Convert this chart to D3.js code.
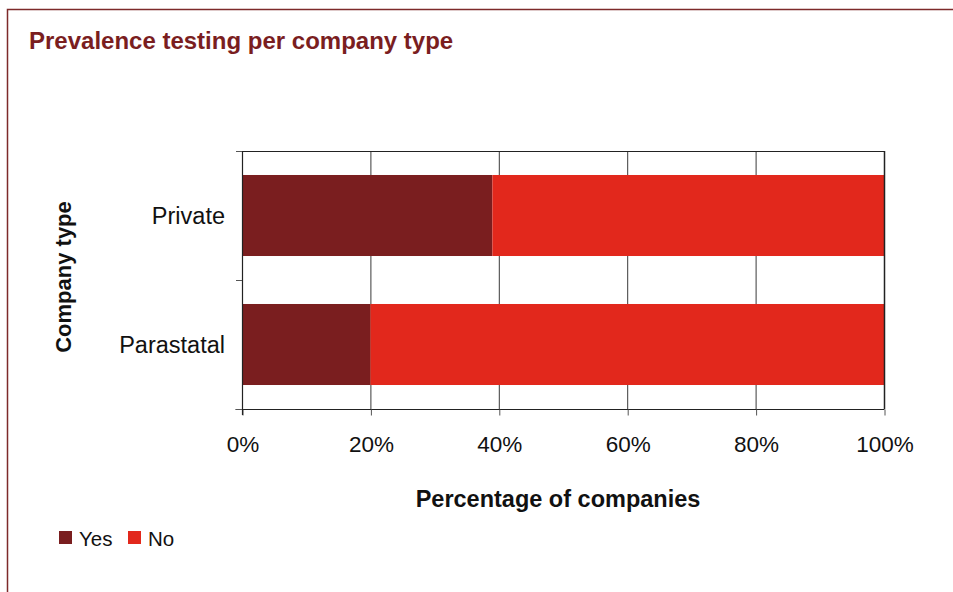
<!DOCTYPE html>
<html>
<head>
<meta charset="utf-8">
<script src="https://cdn.jsdelivr.net/npm/d3@7"></script>
<style>
  html, body { margin: 0; padding: 0; background: #fff; }
  svg text { font-family: "Liberation Sans", Arial, Helvetica, sans-serif; }
</style>
</head>
<body>
<svg id="chart" width="953" height="592"></svg>
<script>
// Share of companies doing prevalence testing, by company type
const categories = ["Private", "Parastatal"];
const seriesNames = ["Yes", "No"];
const yesValues = [39, 20];
const noValues = [61, 80];
const tickValues = [0, 20, 40, 60, 80, 100];
const tickLabels = ["0%", "20%", "40%", "60%", "80%", "100%"];
const seriesColors = ["#7a1e1f", "#e2281c"];

const svg = d3.select("#chart");

// Outer frame (open to the right and bottom)
svg.append("path")
  .attr("d", "M7.5,592 V9.5 H953")
  .attr("fill", "none")
  .attr("stroke", "#7d2a2a")
  .attr("stroke-width", 1.5);

// Title
svg.append("text")
  .attr("x", 29).attr("y", 49)
  .attr("font-size", 24).attr("font-weight", "bold")
  .attr("fill", "#7a1e1f")
  .text("Prevalence testing per company type");

const plot = { left: 242, right: 884, top: 151, bottom: 409 };

const x = d3.scaleLinear().domain([0, 100]).range([plot.left, plot.right]);
const y = d3.scaleBand().domain(categories)
  .range([plot.top, plot.bottom])
  .paddingInner(0.372).paddingOuter(0.186);

// Stacked data
const rows = categories.map((c, i) => ({ category: c, Yes: yesValues[i], No: noValues[i] }));
const stacked = d3.stack().keys(seriesNames)(rows);

// Vertical gridlines
svg.append("g")
  .selectAll("line")
  .data(tickValues.slice(1))
  .join("line")
  .attr("x1", d => x(d) + 0.5).attr("x2", d => x(d) + 0.5)
  .attr("y1", plot.top).attr("y2", plot.bottom)
  .attr("stroke", "#3a3a3a").attr("stroke-width", 1);

// Top border
svg.append("line")
  .attr("x1", plot.left).attr("x2", plot.right + 1)
  .attr("y1", plot.top + 0.5).attr("y2", plot.top + 0.5)
  .attr("stroke", "#222").attr("stroke-width", 1);

// Bars
svg.append("g")
  .selectAll("g")
  .data(stacked)
  .join("g")
  .attr("fill", (d, i) => seriesColors[i])
  .selectAll("rect")
  .data(d => d)
  .join("rect")
  .attr("x", d => x(d[0]))
  .attr("width", d => x(d[1]) - x(d[0]))
  .attr("y", d => y(d.data.category))
  .attr("height", y.bandwidth());

// Right border drawn above bars
svg.append("line")
  .attr("x1", plot.right + 0.5).attr("x2", plot.right + 0.5)
  .attr("y1", plot.top).attr("y2", plot.bottom)
  .attr("stroke", "#222").attr("stroke-width", 1.5);

// Bottom axis
const xAxis = d3.axisBottom(x)
  .tickValues(tickValues)
  .tickFormat((d, i) => tickLabels[i])
  .tickSize(6).tickSizeOuter(0).tickPadding(21);
const gx = svg.append("g")
  .attr("transform", `translate(0.5,${plot.bottom + 0.5})`)
  .call(xAxis);
gx.select(".domain").attr("stroke", "#222").attr("d", `M${plot.left - 7},0H${plot.right}`);
gx.selectAll(".tick line").attr("stroke", "#555");
gx.selectAll(".tick text")
  .attr("font-size", 22.5).attr("fill", "#111")
  .attr("font-family", "Liberation Sans, Arial, sans-serif");

// Left axis: category boundaries as ticks
const bounds = [plot.top, (plot.top + plot.bottom) / 2, plot.bottom];
const gy = svg.append("g");
gy.append("line")
  .attr("x1", plot.left + 0.5).attr("x2", plot.left + 0.5)
  .attr("y1", plot.top).attr("y2", plot.bottom + 6)
  .attr("stroke", "#222").attr("stroke-width", 1.2);
gy.selectAll("line.tk")
  .data(bounds)
  .join("line").attr("class", "tk")
  .attr("x1", plot.left - 6).attr("x2", plot.left)
  .attr("y1", d => d + 0.5).attr("y2", d => d + 0.5)
  .attr("stroke", "#555");
gy.selectAll("text")
  .data(categories)
  .join("text")
  .attr("x", plot.left - 17)
  .attr("y", d => y(d) + y.bandwidth() / 2)
  .attr("dy", "0.35em")
  .attr("text-anchor", "end")
  .attr("font-size", 23.5).attr("fill", "#111")
  .text(d => d);

// Axis titles
svg.append("text")
  .attr("x", (plot.left + plot.right) / 2 - 5).attr("y", 507)
  .attr("text-anchor", "middle")
  .attr("font-size", 23.5).attr("font-weight", "bold").attr("fill", "#111")
  .text("Percentage of companies");

svg.append("text")
  .attr("transform", "translate(71,277) rotate(-90)")
  .attr("text-anchor", "middle")
  .attr("font-size", 22).attr("font-weight", "bold").attr("fill", "#111")
  .text("Company type");

// Legend
const legend = svg.append("g").attr("transform", "translate(59,531)");
const legendX = [0, 69];
const items = legend.selectAll("g")
  .data(seriesNames)
  .join("g")
  .attr("transform", (d, i) => `translate(${legendX[i]},0)`);
items.append("rect")
  .attr("width", 13).attr("height", 13)
  .attr("fill", (d, i) => seriesColors[i]);
items.append("text")
  .attr("x", 20).attr("y", 15)
  .attr("font-size", 20.5).attr("fill", "#111")
  .text(d => d);
</script>
</body>
</html>
